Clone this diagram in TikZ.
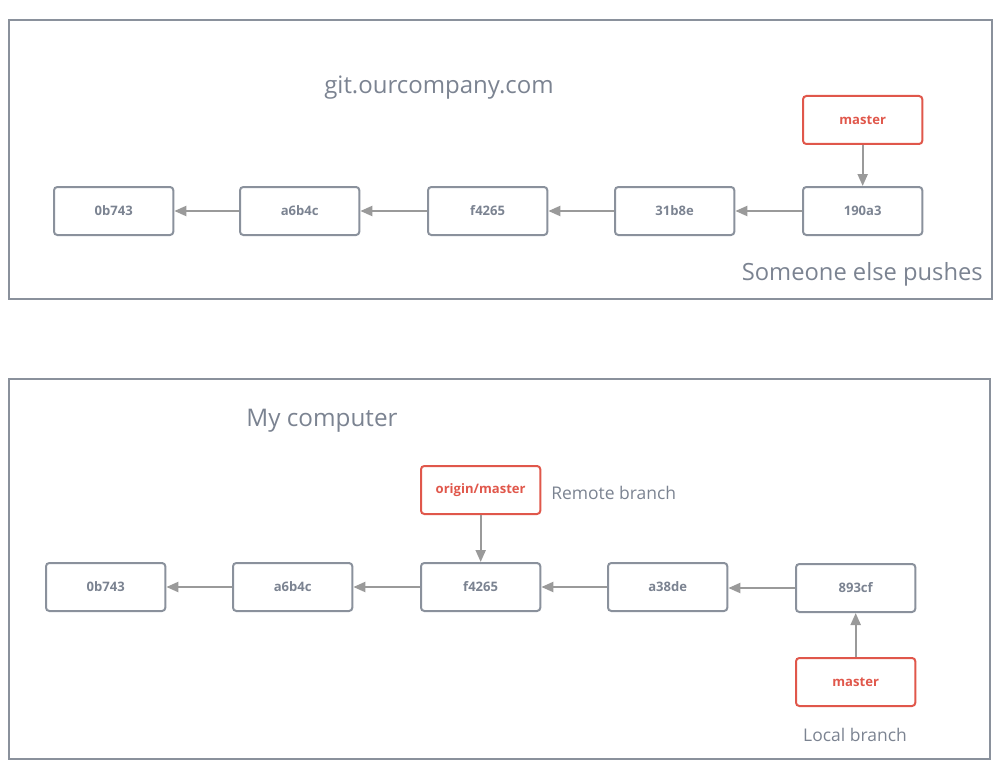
\documentclass[tikz,border=0pt]{standalone}
\usepackage{fontspec}
\setmainfont{Open Sans}
\usetikzlibrary{arrows.meta}
\definecolor{frame}{HTML}{8A919C}
\definecolor{txt}{HTML}{7B8391}
\definecolor{redc}{HTML}{E0574B}
\definecolor{arr}{HTML}{9A9A9A}
\tikzset{
  commit/.style={draw=frame, line width=1.5pt, rounded corners=2.5pt, minimum width=89.5pt, minimum height=36pt, inner sep=0pt, text=txt, font=\fontsize{9.8}{11}\selectfont\bfseries, anchor=north west},
  branch/.style={commit, draw=redc, text=redc},
  conn/.style={draw=arr, line width=1.6pt, -{Triangle[length=9pt,width=7.5pt]}},
  frm/.style={draw=frame, line width=1.4pt},
  lbl/.style={text=txt, inner sep=0pt}
}
\begin{document}
\begin{tikzpicture}[x=0.75pt,y=-0.75pt]
\useasboundingbox (0,0) rectangle (1005,770);
% top frame
\draw[frm] (9,20) rectangle (992,299);
\node[lbl, font=\fontsize{18}{20}\selectfont] (t1) at (439,88) {git.ourcompany.com};
\node[lbl, font=\fontsize{17.8}{20}\selectfont, anchor=east] (t2) at (983,274) {Someone else pushes};
\node[commit] (a1) at (53,186) {0b743};
\node[commit] (a2) at (239,186) {a6b4c};
\node[commit] (a3) at (427,186) {f4265};
\node[commit] (a4) at (614,186) {31b8e};
\node[commit] (a5) at (802,186) {190a3};
\node[branch] (am) at (802,95) {master};
\draw[conn] (a2) -- (a1);
\draw[conn] (a3) -- (a2);
\draw[conn] (a4) -- (a3);
\draw[conn] (a5) -- (a4);
\draw[conn] (am) -- (a5);
% bottom frame
\draw[frm] (9,379) rectangle (990,759);
\node[lbl, font=\fontsize{18.2}{20}\selectfont] (t3) at (322,421) {My computer};
\node[commit] (b1) at (45,562) {0b743};
\node[commit] (b2) at (232,562) {a6b4c};
\node[commit] (b3) at (420,562) {f4265};
\node[commit] (b4) at (607,562) {a38de};
\node[commit] (b5) at (795,563) {893cf};
\node[branch] (bo) at (420,465) {origin/master};
\node[branch] (bm) at (795,657) {master};
\node[lbl, font=\fontsize{13.1}{15}\selectfont, anchor=west] (t4) at (551,493) {Remote branch};
\node[lbl, font=\fontsize{13.1}{15}\selectfont] (t5) at (855,735) {Local branch};
\draw[conn] (b2) -- (b1);
\draw[conn] (b3) -- (b2);
\draw[conn] (b4) -- (b3);
\draw[conn] (b5.west) -- (b5.west -| b4.east);
\draw[conn] (bo) -- (b3);
\draw[conn] (bm) -- (b5);
\end{tikzpicture}
\end{document}
